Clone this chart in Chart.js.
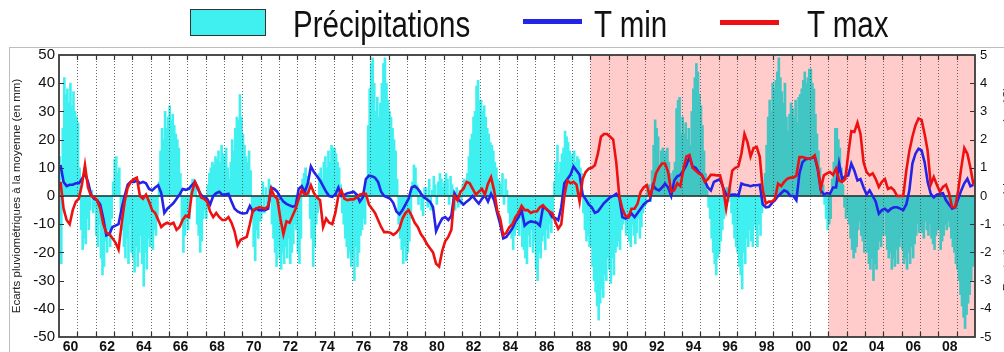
<!DOCTYPE html>
<html>
<head>
<meta charset="utf-8">
<script src="https://cdn.jsdelivr.net/npm/chart.js@4.4.1/dist/chart.umd.min.js"></script>
<style>
  html, body { margin: 0; padding: 0; background: #fff; }
  #wrap { position: relative; width: 1004px; height: 352px; overflow: hidden; }
  #frame { position: absolute; left: 9px; top: 47px; width: 1000px; height: 310px;
           border-top: 1px solid #bdbdbd; border-left: 1px solid #bdbdbd; pointer-events: none; }
  .lg-text { position: absolute; top: 7px; font-family: "Liberation Sans", Arial, sans-serif;
             font-size: 36px; line-height: 36px; color: #111; white-space: nowrap;
             transform: scaleX(0.82); transform-origin: 0 0; }
  .lg-box { position: absolute; left: 190px; top: 9px; width: 74px; height: 25px;
            background: rgb(64,240,240); border: 1px solid #333; }
  .lg-line { position: absolute; width: 59px; height: 5px; }
</style>
</head>
<body>
<div id="wrap">
  <canvas id="chart" width="1004" height="352"></canvas>
  <div id="frame"></div>
  <div class="lg-box"></div>
  <div class="lg-text" style="left:293px">Précipitations</div>
  <div class="lg-line" style="left:523px;top:19px;background:#2424e8"></div>
  <div class="lg-text" style="left:594px">T min</div>
  <div class="lg-line" style="left:720px;top:20px;background:#ee1111"></div>
  <div class="lg-text" style="left:807px">T max</div>
</div>
<script>
// first year of the series; one row per year
var startYear = 1960;

// rainfall deviation from the mean (mm), Jan..Dec
var precip = [
  [14, -24, 24, 42, 36, 38, 33, 40, 32, 37, 30, 28],
  [26, 10, -12, -19, -15, -17, -8, -12, -5, 2, -6, -4],
  [-14, -18, -10, -22, -28, -25, -16, -20, -12, -18, -8, 5],
  [13, 14, 8, 10, -5, -12, -18, -22, -15, -24, -10, -20],
  [-22, -27, -18, -25, -20, -14, -24, -32, -20, -26, -15, -18],
  [-16, -19, -12, -14, -8, 5, 16, 24, 20, 30, 24, 28],
  [32, 27, 29, 25, 22, 20, 17, 8, -10, -20, -14, -9],
  [-12, -8, 4, 6, 3, 5, -10, -14, -20, -16, -8, -5],
  [-8, 4, 8, 10, 12, 11, 14, 13, 16, 12, 18, 15],
  [14, 17, 10, 6, 12, 20, 16, 24, 28, 27, 36, 28],
  [22, 18, 14, 12, 16, 9, -6, -18, -23, -12, -15, -9],
  [-8, 5, -6, 3, -4, 6, 4, -10, -15, -20, -25, -18],
  [-22, -26, -20, -24, -18, -22, -15, -24, -20, -17, -10, -12],
  [-20, -24, -15, 6, 8, 10, 7, 5, -8, -15, -25, -18],
  [-10, -6, 8, 10, 6, 12, 14, 10, 16, 12, 18, 17],
  [17, 15, 12, 10, 4, -6, -10, -15, -18, -22, -20, -25],
  [-22, -30, -18, -25, -20, -14, -12, -8, -10, 5, 25, 38],
  [47, 49, 40, 30, 35, 28, 33, 40, 47, 49, 40, 34],
  [30, 28, 24, 20, 16, 6, -10, -15, -19, -24, -18, -23],
  [-20, -16, -8, 5, 11, 10, 4, -3, 2, -5, -7, 3],
  [3, -4, 6, -5, 2, 7, 4, -3, 5, 8, 6, 3],
  [5, 8, 6, -3, 7, 4, -2, -5, 3, -4, 2, -3],
  [4, 6, 3, 8, 14, 20, 22, 28, 30, 39, 41, 34],
  [34, 30, 32, 28, 24, 22, 19, 18, 16, 12, 10, 6],
  [5, 4, 8, -3, 6, 2, -6, -10, -15, -19, -14, -12],
  [-10, -14, -8, -18, -19, -22, -24, -14, -18, -12, -20, -16],
  [-26, -30, -20, -22, -16, -14, -19, -12, -15, -10, -13, -8],
  [5, 12, 18, 8, 12, 15, 17, 23, 21, 19, 16, 14],
  [15, 16, 12, 14, 13, 10, 8, -6, -12, -16, -14, -18],
  [-18, -25, -30, -34, -39, -44, -38, -33, -36, -28, -30, -22],
  [-26, -31, -22, -28, -20, -18, -16, -19, -12, -10, -6, -14],
  [-12, -16, -18, -10, -14, -17, -13, -8, -15, -11, -6, -4],
  [-3, 2, 4, -2, 9, 18, 27, 24, 21, 11, 16, 17],
  [14, 16, 17, 12, 8, 4, 9, 12, 31, 34, 35, 22],
  [28, 22, 26, 20, 24, 18, 30, 38, 42, 47, 44, 36],
  [32, 25, 16, 8, 2, -4, -8, -15, -20, -24, -28, -22],
  [-20, -16, -12, -8, -4, 3, -2, 4, -6, -10, -15, -18],
  [-20, -25, -28, -33, -20, -24, -15, -18, -12, -16, -18, -10],
  [-12, -18, -10, -14, -6, 3, 8, 18, 28, 34, 30, 40],
  [38, 41, 44, 49, 42, 37, 33, 40, 28, 23, 29, 33],
  [31, 28, 34, 26, 35, 36, 38, 41, 44, 40, 42, 45],
  [45, 40, 38, 29, 22, 16, 10, 5, 4, -3, -8, -12],
  [-10, -8, 6, 12, 24, 24, 20, 17, 10, 4, -4, -8],
  [-6, -10, -15, -19, -22, -20, -18, -12, -9, -14, -16, -20],
  [-15, -20, -24, -26, -22, -30, -24, -26, -19, -16, -18, -14],
  [-6, -14, -19, -22, -20, -26, -22, -25, -19, -24, -18, -15],
  [-19, -24, -22, -26, -20, -24, -18, -22, -17, -14, -10, -13],
  [-11, -13, -15, -9, -12, -14, -10, -15, -17, -19, -14, -12],
  [-12, -19, -16, -14, -10, -12, -9, -11, -15, -18, -20, -24],
  [-26, -30, -35, -39, -43, -47, -42, -38, -35, -30, -25, -22]
];

// minimum temperature deviation (°C), six two-month steps per year
var tmin = [
  [1.1, 0.5, 0.35, 0.4, 0.4, 0.45],
  [0.45, 0.6, 0.8, 0.5, 0.05, -0.1],
  [-0.15, -0.3, -0.8, -1.4, -1.35, -1.1],
  [-1.05, -1.0, -0.45, 0.0, 0.4, 0.5],
  [0.5, 0.55, 0.45, 0.5, 0.45, 0.25],
  [0.2, 0.3, 0.38, 0.1, -0.6, -0.45],
  [-0.35, -0.25, -0.1, 0.05, 0.25, 0.22],
  [0.25, 0.38, 0.5, 0.25, 0.05, -0.05],
  [-0.1, -0.3, 0.0, 0.1, 0.15, 0.05],
  [0.05, 0.08, -0.2, -0.45, -0.55, -0.6],
  [-0.62, -0.6, -0.35, -0.55, -0.45, -0.5],
  [-0.5, -0.5, -0.45, 0.3, 0.25, 0.15],
  [-0.05, -0.2, -0.28, -0.33, -0.38, -0.35],
  [0.25, 0.35, 0.15, 0.45, 1.05, 0.85],
  [0.7, 0.55, 0.35, 0.15, 0.0, -0.03],
  [0.05, 0.3, 0.0, 0.05, 0.1, 0.12],
  [0.15, 0.05, -0.2, -0.05, 0.6, 0.72],
  [0.7, 0.65, 0.5, 0.15, 0.0, -0.05],
  [-0.1, -0.25, -0.55, -0.65, -0.5, -0.3],
  [-0.1, 0.3, 0.35, 0.26, 0.1, -0.05],
  [-0.12, -0.2, -0.4, -1.25, -1.0, -0.8],
  [-0.75, -0.85, -0.7, 0.1, -0.1, -0.2],
  [-0.3, -0.2, -0.12, 0.0, -0.15, -0.27],
  [-0.1, 0.02, -0.2, 0.08, -0.15, -0.6],
  [-1.0, -1.5, -1.45, -1.3, -1.15, -0.9],
  [-0.75, -0.5, -1.05, -0.95, -0.9, -0.92],
  [-0.95, -1.05, -0.4, -0.45, -0.55, -0.75],
  [-0.78, -0.86, -0.4, 0.45, 0.6, 0.75],
  [1.05, 0.9, 0.75, 0.05, -0.12, -0.3],
  [-0.4, -0.6, -0.55, -0.4, -0.25, -0.15],
  [-0.05, 0.0, 0.08, -0.05, -0.75, -0.8],
  [-0.75, -0.62, -0.75, -0.6, -0.45, -0.3],
  [-0.2, -0.15, 0.38, 0.25, 0.2, 0.3],
  [0.44, 0.3, 0.0, 0.55, 0.7, 0.75],
  [0.9, 1.1, 1.38, 1.05, 1.0, 0.85],
  [0.75, 0.55, 0.3, 0.2, 0.5, 0.55],
  [0.6, 0.3, 0.05, 0.0, 0.05, 0.05],
  [0.0, 0.44, 0.4, 0.38, 0.35, 0.38],
  [0.38, 0.4, -0.3, -0.4, -0.38, -0.25],
  [-0.15, 0.0, 0.1, 0.2, 0.15, 0.0],
  [0.0, -0.15, 0.8, 1.2, 1.3, 1.32],
  [1.35, 1.38, 0.95, 0.2, 0.05, 0.1],
  [0.08, 0.3, 0.3, 1.15, 0.6, 0.7],
  [0.73, 1.15, 0.9, 0.55, 0.6, 0.3],
  [0.05, 0.2, 0.0, -0.2, -0.63, -0.5],
  [-0.45, -0.55, -0.45, -0.4, -0.4, -0.45],
  [-0.5, -0.3, 0.2, 1.15, 1.5, 1.68],
  [1.62, 1.2, 0.5, 0.08, -0.05, 0.05],
  [0.08, 0.1, -0.15, -0.3, -0.45, -0.4],
  [-0.1, 0.2, 0.45, 0.61, 0.35, 0.4]
];

// maximum temperature deviation (°C), six two-month steps per year
var tmax = [
  [0.5, -0.45, -0.85, -1.0, -0.5, -0.2],
  [-0.1, 0.4, 1.1, 0.3, 0.0, -0.05],
  [-0.15, -0.45, -1.0, -1.3, -1.35, -1.5],
  [-1.65, -1.9, -1.0, -0.2, 0.3, 0.5],
  [0.6, 0.65, 0.0, -0.1, 0.05, -0.2],
  [-0.5, -0.6, -0.85, -1.1, -1.0, -0.95],
  [-1.0, -0.95, -1.2, -1.1, -0.85, -0.7],
  [-0.75, 0.1, 0.5, 0.3, -0.05, -0.1],
  [-0.2, -0.55, -0.75, -0.6, -0.75, -0.85],
  [-0.85, -0.75, -0.95, -1.25, -1.75, -1.55],
  [-1.5, -1.45, -1.0, -0.5, -0.45, -0.4],
  [-0.42, -0.45, -0.35, 0.25, 0.0, -0.1],
  [-0.8, -1.35, -0.9, -0.95, -0.7, -0.45],
  [-0.1, 0.2, 0.05, 0.1, 0.38, 0.1],
  [-0.05, -0.15, -1.1, -0.8, -0.95, -1.0],
  [-0.6, 0.0, 0.2, -0.1, -0.15, -0.12],
  [-0.12, -0.05, 0.05, 0.08, 0.08, -0.3],
  [-0.45, -0.6, -0.85, -1.1, -1.28, -1.28],
  [-1.3, -1.38, -1.3, -1.15, -0.8, -0.6],
  [-0.5, -0.7, -0.95, -1.1, -1.35, -1.5],
  [-1.7, -1.85, -2.0, -2.4, -2.5, -1.95],
  [-1.6, -1.45, -1.2, 0.0, -0.15, 0.15],
  [0.26, 0.5, 0.45, 0.25, 0.05, 0.15],
  [0.25, 0.05, 0.44, 0.67, 0.2, -0.5],
  [-0.8, -1.39, -1.3, -1.1, -1.0, -0.75],
  [-0.6, -0.35, -0.5, -0.5, -0.6, -0.55],
  [-0.55, -0.4, -0.33, -0.45, -0.55, -0.6],
  [-0.9, -1.16, -1.0, 0.0, 0.55, 0.45],
  [0.5, 0.4, -0.2, 0.6, 0.85, 0.97],
  [1.0, 1.09, 1.5, 2.1, 2.2, 2.2],
  [2.1, 2.0, 1.2, 0.0, -0.45, -0.7],
  [-0.75, -0.45, -0.45, -0.27, 0.15, 0.3],
  [0.38, 0.0, 0.3, 0.8, 1.0, 1.15],
  [1.15, 0.85, 0.15, 0.2, 0.45, 0.35],
  [0.95, 1.4, 1.45, 1.0, 0.9, 0.8],
  [0.75, 0.5, 0.6, 0.75, 0.75, 0.73],
  [0.73, 0.3, -0.45, 0.2, 0.9, 1.0],
  [1.05, 1.5, 2.2, 1.9, 1.4, 1.7],
  [1.74, 1.4, 0.2, -0.27, -0.2, -0.2],
  [-0.1, 0.44, 0.35, 0.5, 0.61, 0.65],
  [0.65, 0.72, 1.38, 1.38, 1.35, 1.32],
  [1.35, 1.44, 1.0, 0.26, 0.73, 0.8],
  [0.85, 0.75, 0.97, 0.55, 0.5, 0.6],
  [1.5, 2.3, 2.27, 2.6, 2.2, 1.2],
  [0.85, 0.73, 0.8, 0.6, 0.32, 0.5],
  [0.6, 0.25, 0.3, 0.2, 0.0, 0.0],
  [0.0, 0.9, 1.6, 2.1, 2.5, 2.75],
  [2.7, 2.2, 1.6, 0.4, 0.67, 0.4],
  [0.15, 0.32, 0.4, 0.1, -0.4, -0.4],
  [0.2, 1.0, 1.7, 1.5, 1.0, 0.4]
];

// shaded periods: warm years above zero, dry years below zero
var shadeAboveFrom = 1989;
var shadeBelowFrom = 2002;

var cyan = 'rgb(64,240,240)';
var teal = 'rgb(66,198,196)';
var pink = 'rgb(255,203,203)';

function toPoints(rows, perYear) {
    var pts = [];
    rows.forEach(function(row, yi) {
        row.forEach(function(v, k) {
            pts.push({ x: startYear + yi + (k + 0.5) / perYear, y: v });
        });
    });
    return pts;
}

var endYear = startYear + precip.length;

var decor = {
    id: 'decor',
    beforeDraw: function(chart) {
        var ctx = chart.ctx, a = chart.chartArea;
        var x = chart.scales.x, y = chart.scales.y;
        var y0 = y.getPixelForValue(0);
        ctx.save();
        ctx.fillStyle = pink;
        var xa = x.getPixelForValue(shadeAboveFrom);
        ctx.fillRect(xa, a.top, a.right - xa, y0 - a.top);
        var xb = x.getPixelForValue(shadeBelowFrom);
        ctx.fillRect(xb, y0, a.right - xb, a.bottom - y0);
        ctx.restore();
    },
    afterDatasetDraw: function(chart, args) {
        if (args.index !== 0) return;
        var ctx = chart.ctx, a = chart.chartArea;
        var x = chart.scales.x, y = chart.scales.y;
        ctx.save();
        // dotted year lines
        ctx.strokeStyle = 'rgba(70,70,70,0.8)';
        ctx.lineWidth = 1;
        ctx.setLineDash([1, 2]);
        for (var yr = startYear + 1; yr < endYear; yr++) {
            var px = Math.round(x.getPixelForValue(yr)) + 0.5;
            ctx.beginPath();
            ctx.moveTo(px, a.top);
            ctx.lineTo(px, a.bottom);
            ctx.stroke();
        }
        ctx.setLineDash([]);
        // zero line
        var y0 = y.getPixelForValue(0);
        ctx.strokeStyle = '#2a2a2a';
        ctx.lineWidth = 1.5;
        ctx.beginPath();
        ctx.moveTo(a.left, y0);
        ctx.lineTo(a.right, y0);
        ctx.stroke();
        ctx.restore();
    },
    afterDraw: function(chart) {
        var ctx = chart.ctx, a = chart.chartArea;
        var x = chart.scales.x, y = chart.scales.y, y2 = chart.scales.y2;
        ctx.save();
        ctx.strokeStyle = '#333';
        ctx.lineWidth = 1.2;
        var t = 5;
        ctx.beginPath();
        for (var yr = startYear + 1; yr < endYear; yr++) {
            var px = Math.round(x.getPixelForValue(yr)) + 0.5;
            ctx.moveTo(px, a.top); ctx.lineTo(px, a.top + t);
            ctx.moveTo(px, a.bottom); ctx.lineTo(px, a.bottom - t);
        }
        for (var v = -40; v <= 40; v += 10) {
            var py = Math.round(y.getPixelForValue(v)) + 0.5;
            ctx.moveTo(a.left, py); ctx.lineTo(a.left + t, py);
        }
        for (var w = -4; w <= 4; w++) {
            var qy = Math.round(y2.getPixelForValue(w)) + 0.5;
            ctx.moveTo(a.right, qy); ctx.lineTo(a.right - t, qy);
        }
        ctx.stroke();
        ctx.lineWidth = 1.8;
        ctx.strokeStyle = '#3a3a3a';
        ctx.strokeRect(a.left, a.top, a.right - a.left, a.bottom - a.top);
        // right axis title, mostly cut off by the page edge
        ctx.translate(1008, (a.top + a.bottom) / 2 - 7);
        ctx.rotate(-Math.PI / 2);
        ctx.fillStyle = '#222';
        ctx.font = '11.5px "Liberation Sans", Arial, sans-serif';
        ctx.textAlign = 'center';
        ctx.textBaseline = 'middle';
        ctx.fillText('Ecarts thermiques à la moyenne (en °C)', 0, 0);
        ctx.restore();
    }
};

Chart.defaults.font.family = '"Liberation Sans", Arial, sans-serif';
Chart.defaults.color = '#111';

new Chart(document.getElementById('chart'), {
    type: 'bar',
    data: {
        datasets: [
            {
                label: 'Précipitations',
                data: toPoints(precip, 12),
                yAxisID: 'y',
                order: 3,
                borderWidth: 0,
                barThickness: 2,
                backgroundColor: function(c) {
                    var p = c.raw;
                    if (!p) return cyan;
                    if ((p.x >= shadeAboveFrom && p.y > 0) || (p.x >= shadeBelowFrom && p.y < 0)) return teal;
                    return cyan;
                }
            },
            {
                type: 'line',
                label: 'T min',
                data: toPoints(tmin, 6),
                yAxisID: 'y2',
                order: 2,
                borderColor: '#2424e8',
                borderWidth: 2.6,
                pointRadius: 0,
                tension: 0
            },
            {
                type: 'line',
                label: 'T max',
                data: toPoints(tmax, 6),
                yAxisID: 'y2',
                order: 1,
                borderColor: '#ee1111',
                borderWidth: 2.6,
                pointRadius: 0,
                tension: 0
            }
        ]
    },
    options: {
        responsive: false,
        animation: false,
        events: [],
        layout: { padding: { top: 55, left: 0, right: 0, bottom: 0 } },
        plugins: { legend: { display: false }, tooltip: { enabled: false } },
        scales: {
            x: {
                type: 'linear',
                min: startYear,
                max: endYear,
                offset: false,
                grid: { display: false, drawTicks: false },
                border: { display: false },
                afterFit: function(s) { s.height = 15; },
                ticks: {
                    stepSize: 1,
                    autoSkip: false,
                    maxRotation: 0,
                    padding: 2,
                    labelOffset: 11.5,
                    font: { size: 14, weight: 'bold' },
                    callback: function(v) {
                        if (v % 2 !== 0 || v >= endYear) return '';
                        return String(v).slice(2);
                    }
                }
            },
            y: {
                position: 'left',
                min: -50,
                max: 50,
                grid: { display: false, drawTicks: false },
                border: { display: false },
                afterFit: function(s) { s.width = 59; },
                ticks: { stepSize: 10, padding: 4, font: { size: 15 } },
                title: {
                    display: true,
                    text: 'Ecarts pluviométriques à la moyenne (en mm)',
                    color: '#222',
                    font: { size: 11.5 },
                    padding: { top: 10, bottom: 0 }
                }
            },
            y2: {
                position: 'right',
                min: -5,
                max: 5,
                grid: { display: false, drawTicks: false },
                border: { display: false },
                afterFit: function(s) { s.width = 29; },
                ticks: { stepSize: 1, padding: 5, font: { size: 13 } }
            }
        }
    },
    plugins: [decor]
});
</script>
</body>
</html>
